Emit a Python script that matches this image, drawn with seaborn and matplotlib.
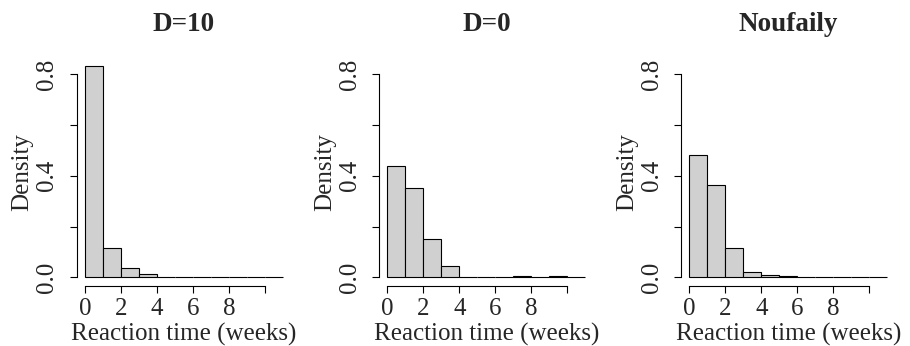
import numpy as np
import pandas as pd
import matplotlib
matplotlib.use("Agg")
import matplotlib.pyplot as plt
import seaborn as sns

# Histogram bin edges (weeks) and densities
bin_edges = [0, 1, 2, 3, 4, 5, 6, 7, 8, 9, 10, 11]
titles = ["D=10", "D=0", "Noufaily"]
dens_d10 = [0.832, 0.115, 0.035, 0.015, 0.0, 0.0, 0.0, 0.002, 0.0, 0.002, 0.0]
dens_d0 = [0.437, 0.353, 0.151, 0.046, 0.0, 0.0, 0.0, 0.005, 0.0, 0.005, 0.002]
dens_nou = [0.483, 0.363, 0.117, 0.022, 0.009, 0.004, 0.001, 0.0, 0.003, 0.0, 0.0]
x_ticks = [0, 2, 4, 6, 8, 10]
x_ticklabels = ["0", "2", "4", "6", "8", ""]
y_ticks = [0.0, 0.2, 0.4, 0.6, 0.8]
y_ticklabels = ["0.0", "", "0.4", "", "0.8"]

sns.set_style("white")
plt.rcParams["font.family"] = ["Liberation Serif", "DejaVu Serif"]

fig = plt.figure(figsize=(9.10, 3.46), dpi=100)
lefts = [77 / 910, 379.4 / 910, 681.4 / 910]
bottom = (346 - 286) / 346
width = 214 / 910
height = 228.6 / 346

mids = [(bin_edges[i] + bin_edges[i + 1]) / 2 for i in range(len(bin_edges) - 1)]
fs = 18

for left, title, dens in zip(lefts, titles, [dens_d10, dens_d0, dens_nou]):
    ax = fig.add_axes([left, bottom, width, height])
    df = pd.DataFrame({"t": mids, "d": dens})
    sns.histplot(data=df, x="t", weights="d", bins=bin_edges, stat="count",
                 color="#D0D0D0", edgecolor="black", linewidth=0.8, alpha=1.0, ax=ax)
    ax.set_xlim(-0.44, 11.44)
    ax.set_ylim(-0.034, 0.866)
    for s in ["top", "right"]:
        ax.spines[s].set_visible(False)
    ax.spines["left"].set_bounds(0, 0.8)
    ax.spines["bottom"].set_bounds(0, 10)
    for s in ["left", "bottom"]:
        ax.spines[s].set_linewidth(0.8)
        ax.spines[s].set_color("black")
    ax.set_xticks(x_ticks)
    ax.set_xticklabels(x_ticklabels, fontsize=fs)
    ax.set_yticks(y_ticks)
    ax.set_yticklabels(y_ticklabels, fontsize=fs, rotation=90, va="center")
    ax.tick_params(axis="both", direction="out", length=5, width=0.8, color="black",
                   bottom=True, left=True)
    ax.tick_params(axis="x", pad=3.5)
    ax.tick_params(axis="y", pad=8.5)
    ax.set_xlabel("Reaction time (weeks)", fontsize=fs, labelpad=2)
    ax.set_ylabel("Density", fontsize=fs, labelpad=2)
    ax.set_title(title, fontsize=19.5, fontweight="bold", pad=19)
    ax.grid(False)

fig.savefig("out.png", dpi=100)
